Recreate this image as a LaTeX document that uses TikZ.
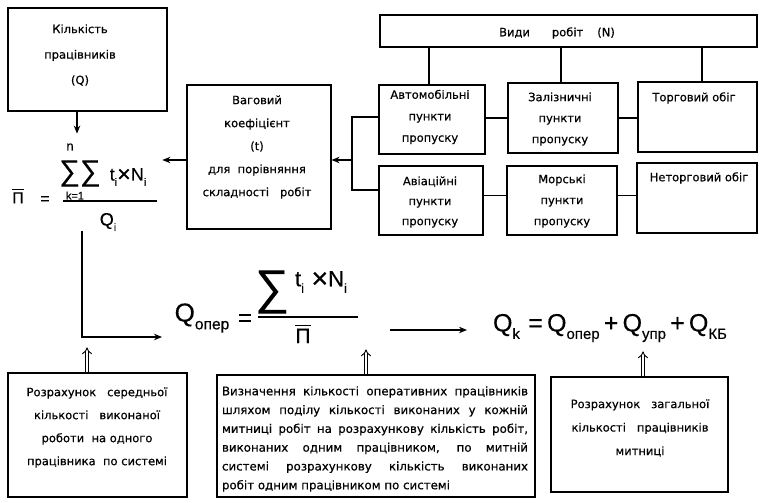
\documentclass[tikz,border=0pt]{standalone}
\usepackage{fontspec}
\usepackage{graphicx}
\setmainfont{DejaVu Sans}[FakeBold=0.5]
\newfontfamily\formfont{Liberation Sans}[FakeBold=0.3]
\usetikzlibrary{arrows.meta}
% lowered, reduced index for the formulas
\newcommand\lo[1]{\raisebox{-0.3em}{\scalebox{0.6}{#1}}}
% Cyrillic П with a bar over it
\newcommand\barP{\leavevmode\vbox{\hrule height 1.2pt\kern 2.5pt\hbox{П}}}
% wide multiplication sign
\newcommand\xx{\raisebox{-0.08em}{\scalebox{1.3}{×}}}
\newcommand\fs[2]{\fontsize{#1}{#2}\selectfont}

\begin{document}
\begin{tikzpicture}[x=1pt,y=-1pt,
  box/.style={draw, line width=1.2pt, inner sep=0pt},
  txt/.style={align=center, inner sep=0pt, font=\fs{11.5}{#1}},
  txt/.default=22,
  f/.style={inner sep=0pt, font=\formfont\fs{#1}{#1}},
  arr/.style={line width=1.2pt, -{Stealth[length=8pt,width=6.5pt]}},
  dbl/.style={double, double distance=2.6pt, line width=0.9pt, -{Implies}},
  link/.style={line width=1.2pt}]
\useasboundingbox (0,0) rectangle (763,503);

% ---------- boxes ----------
\node[box, minimum width=159, minimum height=103] (kil)    at (87.5,59.5) {};
\node[box, minimum width=144, minimum height=144] (vag)    at (259,157)   {};
\node[box, minimum width=377, minimum height=32]  (vydy)   at (568.5,31)  {};
\node[box, minimum width=106, minimum height=69]  (avto)   at (432,119.5) {};
\node[box, minimum width=110, minimum height=70]  (zal)    at (563,118)   {};
\node[box, minimum width=119, minimum height=70]  (torg)   at (697.5,117) {};
\node[box, minimum width=104, minimum height=69]  (avia)   at (431,200.5) {};
\node[box, minimum width=110, minimum height=69]  (mor)    at (562,200.5) {};
\node[box, minimum width=120, minimum height=70]  (netorg) at (697,198)   {};
\node[box, minimum width=179, minimum height=124] (b1)     at (97.5,435)  {};
\node[box, minimum width=318, minimum height=122] (b2)     at (376,436)   {};
\node[box, minimum width=177, minimum height=115] (b3)     at (639.5,434.5) {};

% ---------- box texts ----------
\node[txt=25.5] (kilt) at (80,55) {Кількість\\працівників\\(Q)};
\node[txt=23] (vagt) at (257,147) {Ваговий\\коефіцієнт\\(t)\\для\ \ порівняння\\складності\ \ \ робіт};
\node[txt] (vydyt) at (557,33) {Види\hspace{22pt}робіт\hspace{14pt}(N)};
\node[txt=21.5] (avtot) at (430,117) {Автомобільні\\пункти\\пропуску};
\node[txt=21] (zalt) at (560,119) {Залізничні\\пункти\\пропуску};
\node[txt] (torgt) at (694,98) {Торговий обіг};
\node[txt=20] (aviat) at (430,202) {Авіаційні\\пункти\\пропуску};
\node[txt=21] (mort) at (562,201) {Морські\\пункти\\пропуску};
\node[txt] (netorgt) at (699,178) {Неторговий обіг};
\node[txt=23] (b1t) at (97,427.5) {Розрахунок\ \ \ середньої\\кількості\ \ \ виконаної\\роботи\ \ на одного\\працівника\ \ по системі};
\node[inner sep=0pt, text width=306pt, align=justify, font=\fs{11.8}{18.8}] (b2t) at (375,439)
  {Визначення кількості оперативних працівників\linebreak
   шляхом поділу кількості виконаних у кожній\linebreak
   митниці робіт на розрахункову кількість робіт,\linebreak
   виконаних одним працівником, по митній\linebreak
   системі розрахункову кількість виконаних\linebreak
   робіт одним працівником по системі};
\node[txt=23.5] (b3t) at (640,428) {Розрахунок\ \ \ загальної\\кількості\ \ \ працівників\\митниці};

% ---------- formulas ----------
\node[f=13] (f1n) at (70,147) {n};
\node[f=29] (f1s) at (80,173.5) {∑∑};
\node[f=18] (f1t) at (128,177) {t\lo{i}\xx N\lo{i}};
\node[f=11] (f1k) at (75,195.5) {k=1};
\node[f=18] (f1q) at (108,222) {Q\lo{i}};
\node[f=16] (f1p) at (18,196) {\barP};
\node[f=16] (f1e) at (45,200) {=};
\draw[link] (63,201) -- (157,201);

\node[f=26] (f2q) at (202,318) {Q\lo{опер}};
\node[f=24] (f2e) at (245,320) {=};
\node[f=48] (f2s) at (272,292) {∑};
\node[f=22] (f2t) at (321,282) {t\lo{i}\,\,\xx N\lo{i}};
\node[f=21] (f2p) at (303,334) {\barP};
\draw[link] (258,317) -- (358,317);

\node[f=25] (f3) at (610,328) {Q\lo{k}\,\,=\,Q\lo{опер}\,+\,Q\lo{упр}\,+\,Q\lo{КБ}};

% ---------- connectors ----------
\draw[link] ([xshift=-3pt]avto.north) -- ([xshift=-3pt]avto.north |- vydy.south);
\draw[link] ([xshift=-2pt]zal.north) -- ([xshift=-2pt]zal.north |- vydy.south);
\draw[link] ([xshift=4.5pt]torg.north) -- ([xshift=4.5pt]torg.north |- vydy.south);
\draw[link] (zal.west) -- (avto.east |- zal.west);
\draw[link] (zal.east) -- (torg.west |- zal.east);
\coordinate (mw) at ([yshift=5pt]mor.west);
\coordinate (me) at ([yshift=5pt]mor.east);
\draw[link] (mw) -- (avia.east |- mw);
\draw[link] (me) -- (netorg.west |- me);

\coordinate (br) at (352,160);
\draw[link] ([yshift=2.5pt]avto.west) -| (br) |- ([yshift=10.5pt]avia.west);
\draw[arr] (br) -- ([yshift=-3pt]vag.east);
\draw[arr] ([yshift=-3pt]vag.west) -- ++(-24,0);
\draw[arr] ([xshift=-10.5pt]kil.south) -- ++(0,22);

\coordinate (qturn) at (82,337);
\coordinate (qend) at (162,337);
\draw[arr] (f1q.south -| qturn) -- (qturn) -- (qend);

\coordinate (a2s) at (390,330);
\coordinate (a2e) at (467,330);
\draw[arr] (a2s) -- (a2e);

\draw[dbl] ([xshift=-10.5pt]b1.north) -- ++(0,-25);
\draw[dbl] ([xshift=-10pt]b2.north) -- ++(0,-25);
\draw[dbl] ([xshift=3.5pt]b3.north) -- ++(0,-25);
\end{tikzpicture}
\end{document}
